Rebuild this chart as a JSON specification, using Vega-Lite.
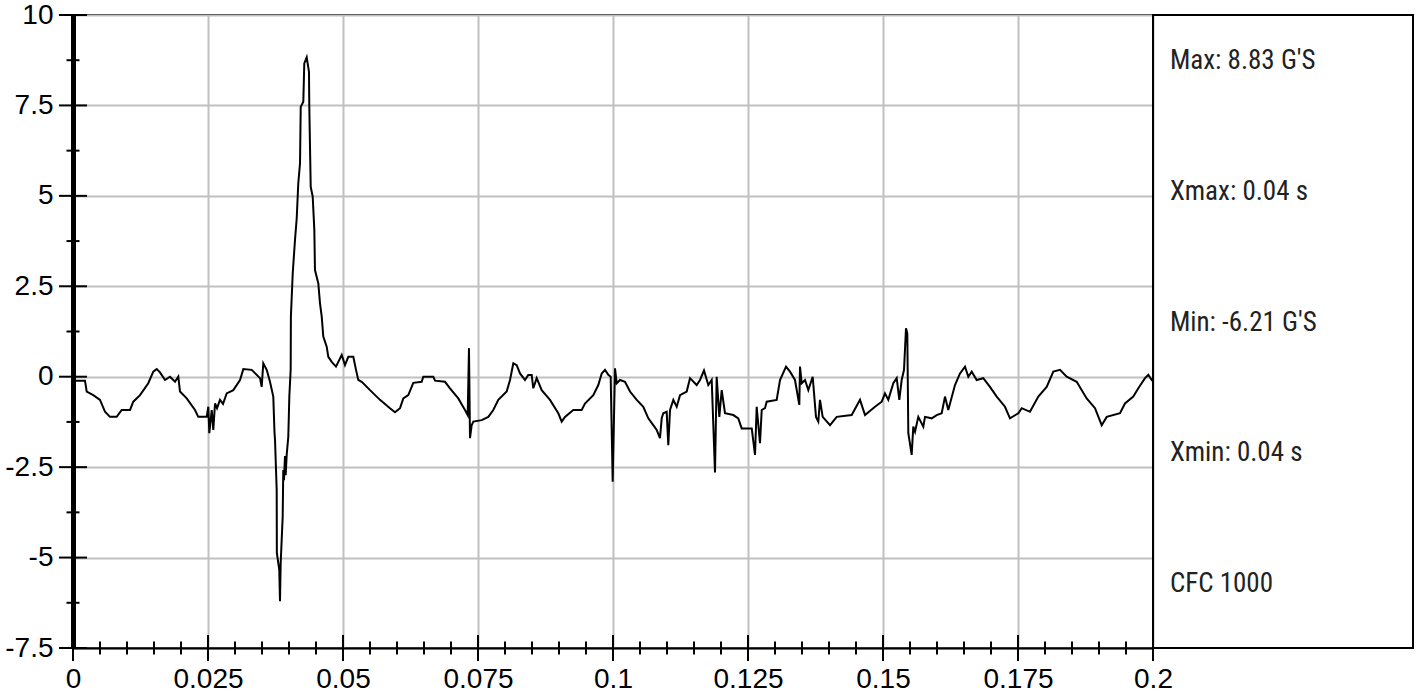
{
  "$schema": "https://vega.github.io/schema/vega-lite/v6.json",
  "padding": {"left": 3, "top": 0, "right": 0, "bottom": 0},
  "background": "white",
  "bounds": "flush",
  "spacing": 0,
  "config": {
    "view": {"stroke": "black", "strokeWidth": 2},
    "axis": {"title": null, "grid": true, "gridColor": "#c0c0c0", "gridWidth": 2, "ticks": false,
      "domainColor": "black", "labelFont": "Liberation Sans", "labelFontSize": 28,
      "labelColor": "black", "labelFlush": false, "labelOverlap": false, "labelBound": false}
  },
  "datasets": {
    "signal": [
      {"t":0,"g":-0.11},{"t":0.00222,"g":-0.11},{"t":0.00254,"g":-0.41},{"t":0.00376,"g":-0.51},{"t":0.005,"g":-0.64},{"t":0.00593,"g":-0.97},{"t":0.00685,"g":-1.11},{"t":0.00809,"g":-1.11},{"t":0.00902,"g":-0.92},{"t":0.01056,"g":-0.92},{"t":0.01117,"g":-0.69},{"t":0.01241,"g":-0.51},{"t":0.01394,"g":-0.18},{"t":0.01487,"g":0.14},{"t":0.0155,"g":0.21},{"t":0.01611,"g":0.12},{"t":0.01704,"g":-0.09},{"t":0.01796,"g":0},{"t":0.01889,"g":-0.14},{"t":0.0195,"g":0},{"t":0.01981,"g":-0.41},{"t":0.02106,"g":-0.6},{"t":0.02259,"g":-0.92},{"t":0.0232,"g":-1.11},{"t":0.02476,"g":-1.11},{"t":0.02506,"g":-0.83},{"t":0.02524,"g":-1.56},{"t":0.02569,"g":-0.92},{"t":0.02598,"g":-1.47},{"t":0.0263,"g":-0.74},{"t":0.02667,"g":-0.87},{"t":0.02722,"g":-0.64},{"t":0.02778,"g":-0.75},{"t":0.02846,"g":-0.46},{"t":0.02969,"g":-0.37},{"t":0.03093,"g":-0.09},{"t":0.03154,"g":0.21},{"t":0.03309,"g":0.19},{"t":0.03402,"g":0.05},{"t":0.03463,"g":-0.04},{"t":0.03494,"g":-0.28},{"t":0.03524,"g":0.37},{"t":0.03587,"g":0.19},{"t":0.03648,"g":-0.14},{"t":0.03709,"g":-0.55},{"t":0.03731,"g":-1.53},{"t":0.03741,"g":-1.75},{"t":0.03772,"g":-3.13},{"t":0.03775,"g":-4.87},{"t":0.0382,"g":-5.34},{"t":0.03833,"g":-6.21},{"t":0.03846,"g":-5.15},{"t":0.03883,"g":-3.87},{"t":0.03894,"g":-2.58},{"t":0.03907,"g":-2.86},{"t":0.03926,"g":-2.19},{"t":0.03939,"g":-2.72},{"t":0.03957,"g":-2.16},{"t":0.03987,"g":-1.66},{"t":0.04006,"g":-0.55},{"t":0.04031,"g":0.19},{"t":0.04035,"g":1.66},{"t":0.04069,"g":2.86},{"t":0.04111,"g":3.78},{"t":0.04143,"g":4.38},{"t":0.04172,"g":5.35},{"t":0.04204,"g":5.9},{"t":0.04217,"g":7.46},{"t":0.04265,"g":7.6},{"t":0.04283,"g":8.66},{"t":0.04328,"g":8.83},{"t":0.0437,"g":8.43},{"t":0.04376,"g":7.46},{"t":0.04402,"g":5.25},{"t":0.04439,"g":4.98},{"t":0.04469,"g":4.06},{"t":0.04481,"g":2.95},{"t":0.04543,"g":2.58},{"t":0.04574,"g":2.03},{"t":0.04606,"g":1.66},{"t":0.04635,"g":1.11},{"t":0.04698,"g":0.83},{"t":0.04728,"g":0.55},{"t":0.04791,"g":0.41},{"t":0.0487,"g":0.28},{"t":0.04976,"g":0.6},{"t":0.05037,"g":0.32},{"t":0.05098,"g":0.55},{"t":0.05191,"g":0.55},{"t":0.05241,"g":0.19},{"t":0.05283,"g":-0.09},{"t":0.05352,"g":-0.15},{"t":0.055,"g":-0.37},{"t":0.05685,"g":-0.64},{"t":0.0587,"g":-0.87},{"t":0.05963,"g":-0.98},{"t":0.06056,"g":-0.87},{"t":0.06117,"g":-0.6},{"t":0.06209,"g":-0.51},{"t":0.06302,"g":-0.17},{"t":0.06457,"g":-0.14},{"t":0.06487,"g":0},{"t":0.06672,"g":0},{"t":0.06704,"g":-0.11},{"t":0.06889,"g":-0.14},{"t":0.06981,"g":-0.32},{"t":0.07135,"g":-0.6},{"t":0.07259,"g":-0.92},{"t":0.07309,"g":-1.06},{"t":0.07333,"g":0.79},{"t":0.07352,"g":-1.7},{"t":0.07383,"g":-1.34},{"t":0.07413,"g":-1.24},{"t":0.07569,"g":-1.2},{"t":0.07691,"g":-1.11},{"t":0.07783,"g":-0.92},{"t":0.07876,"g":-0.64},{"t":0.08031,"g":-0.41},{"t":0.08093,"g":-0.09},{"t":0.08154,"g":0.37},{"t":0.08217,"g":0.32},{"t":0.08278,"g":0.09},{"t":0.0837,"g":-0.09},{"t":0.08431,"g":0.05},{"t":0.08494,"g":0.05},{"t":0.08524,"g":-0.32},{"t":0.08587,"g":-0.04},{"t":0.0868,"g":-0.37},{"t":0.08833,"g":-0.64},{"t":0.08987,"g":-1.01},{"t":0.0905,"g":-1.24},{"t":0.09111,"g":-1.11},{"t":0.09265,"g":-0.92},{"t":0.0942,"g":-0.92},{"t":0.09481,"g":-0.74},{"t":0.09635,"g":-0.51},{"t":0.09728,"g":-0.23},{"t":0.09791,"g":0.09},{"t":0.09852,"g":0.19},{"t":0.09913,"g":0.05},{"t":0.09957,"g":0},{"t":0.09994,"g":-2.9},{"t":0.10037,"g":0.23},{"t":0.10069,"g":-0.18},{"t":0.1013,"g":-0.09},{"t":0.10222,"g":-0.14},{"t":0.10315,"g":-0.41},{"t":0.10439,"g":-0.64},{"t":0.10561,"g":-0.83},{"t":0.10654,"g":-1.15},{"t":0.10746,"g":-1.34},{"t":0.10809,"g":-1.47},{"t":0.1087,"g":-1.7},{"t":0.10902,"g":-1.15},{"t":0.10931,"g":-1.01},{"t":0.10994,"g":-0.97},{"t":0.11024,"g":-1.89},{"t":0.11056,"g":-0.92},{"t":0.11117,"g":-0.64},{"t":0.1118,"g":-0.83},{"t":0.11241,"g":-0.51},{"t":0.11365,"g":-0.41},{"t":0.11426,"g":-0.04},{"t":0.1155,"g":-0.23},{"t":0.11611,"g":-0.09},{"t":0.11685,"g":0.17},{"t":0.11765,"g":-0.23},{"t":0.11828,"g":-0.09},{"t":0.11889,"g":-2.65},{"t":0.1192,"g":0},{"t":0.11969,"g":-1.11},{"t":0.12013,"g":-0.37},{"t":0.12074,"g":-1.01},{"t":0.12228,"g":-1.06},{"t":0.1232,"g":-1.15},{"t":0.12383,"g":-1.43},{"t":0.12569,"g":-1.43},{"t":0.1263,"g":-2.16},{"t":0.12661,"g":-0.83},{"t":0.12722,"g":-1.84},{"t":0.12754,"g":-0.92},{"t":0.12815,"g":-0.87},{"t":0.12846,"g":-0.69},{"t":0.13031,"g":-0.64},{"t":0.13093,"g":-0.09},{"t":0.13204,"g":0.28},{"t":0.13278,"g":0.14},{"t":0.1337,"g":-0.09},{"t":0.1345,"g":-0.78},{"t":0.13463,"g":0.28},{"t":0.13494,"g":-0.18},{"t":0.13556,"g":-0.09},{"t":0.13617,"g":-0.37},{"t":0.13698,"g":0},{"t":0.13759,"g":-1.11},{"t":0.13802,"g":-1.24},{"t":0.13833,"g":-0.64},{"t":0.13883,"g":-1.11},{"t":0.14019,"g":-1.34},{"t":0.14143,"g":-1.11},{"t":0.1442,"g":-1.06},{"t":0.14574,"g":-0.64},{"t":0.14667,"g":-1.06},{"t":0.14852,"g":-0.83},{"t":0.14976,"g":-0.69},{"t":0.15037,"g":-0.46},{"t":0.15098,"g":-0.64},{"t":0.15191,"g":-0.18},{"t":0.15254,"g":-0.04},{"t":0.15302,"g":-0.64},{"t":0.15346,"g":-0.09},{"t":0.15389,"g":0.19},{"t":0.15426,"g":1.34},{"t":0.1545,"g":1.2},{"t":0.15469,"g":-1.56},{"t":0.15531,"g":-2.16},{"t":0.15561,"g":-1.38},{"t":0.15593,"g":-1.52},{"t":0.15654,"g":-1.11},{"t":0.15746,"g":-1.38},{"t":0.15778,"g":-1.11},{"t":0.15902,"g":-1.15},{"t":0.15994,"g":-1.06},{"t":0.16087,"g":-1.01},{"t":0.16148,"g":-0.55},{"t":0.16209,"g":-0.92},{"t":0.16333,"g":-0.23},{"t":0.16426,"g":0.09},{"t":0.16519,"g":0.28},{"t":0.1658,"g":0},{"t":0.16643,"g":0.14},{"t":0.16735,"g":-0.09},{"t":0.16857,"g":-0.04},{"t":0.16981,"g":-0.28},{"t":0.17106,"g":-0.55},{"t":0.17259,"g":-0.83},{"t":0.17352,"g":-1.15},{"t":0.17506,"g":-1.01},{"t":0.17569,"g":-0.87},{"t":0.17722,"g":-0.97},{"t":0.17876,"g":-0.55},{"t":0.18031,"g":-0.28},{"t":0.18154,"g":0.14},{"t":0.18278,"g":0.19},{"t":0.18402,"g":0},{"t":0.18587,"g":-0.14},{"t":0.18772,"g":-0.6},{"t":0.18926,"g":-0.87},{"t":0.1905,"g":-1.34},{"t":0.19143,"g":-1.11},{"t":0.19389,"g":-1.01},{"t":0.19481,"g":-0.74},{"t":0.19635,"g":-0.55},{"t":0.19728,"g":-0.32},{"t":0.19852,"g":-0.04},{"t":0.19913,"g":0.05},{"t":0.19976,"g":-0.09},{"t":0.2,"g":-0.05}
    ],
    "ymaj": [{"g":-7.5},{"g":-5},{"g":-2.5},{"g":0},{"g":2.5},{"g":5},{"g":7.5},{"g":10}],
    "ymin": [{"g":-6.25},{"g":-3.75},{"g":-1.25},{"g":1.25},{"g":3.75},{"g":6.25},{"g":8.75}],
    "xmaj": [{"t":0},{"t":0.025},{"t":0.05},{"t":0.075},{"t":0.1},{"t":0.125},{"t":0.15},{"t":0.175},{"t":0.2}],
    "xmin": [{"t":0.005},{"t":0.01},{"t":0.015},{"t":0.02},{"t":0.03},{"t":0.035},{"t":0.04},{"t":0.045},{"t":0.055},{"t":0.06},{"t":0.065},{"t":0.07},{"t":0.08},{"t":0.085},{"t":0.09},{"t":0.095},{"t":0.105},{"t":0.11},{"t":0.115},{"t":0.12},{"t":0.13},{"t":0.135},{"t":0.14},{"t":0.145},{"t":0.155},{"t":0.16},{"t":0.165},{"t":0.17},{"t":0.18},{"t":0.185},{"t":0.19},{"t":0.195}],
    "stats": [{"label":"Max: 8.83 G'S"},{"label":"Xmax: 0.04 s"},{"label":"Min: -6.21 G'S"},{"label":"Xmin: 0.04 s"},{"label":"CFC 1000"}]
  },
  "hconcat": [
    {
      "width": 1080,
      "height": 633,
      "layer": [
        {
          "data": {"name": "signal"},
          "mark": {"type": "line", "color": "black", "strokeWidth": 2, "clip": true},
          "encoding": {
            "x": {"field": "t", "type": "quantitative", "title": null,
              "scale": {"domain": [0, 0.2], "nice": false, "zero": false},
              "axis": {"values": [0,0.025,0.05,0.075,0.1,0.125,0.15,0.175,0.2], "labelExpr": "datum.value + ''",
                "title": null, "domainWidth": 2, "labelPadding": 17}},
            "y": {"field": "g", "type": "quantitative", "title": null,
              "scale": {"domain": [-7.5, 10], "nice": false, "zero": false},
              "axis": {"values": [-7.5,-5,-2.5,0,2.5,5,7.5,10], "labelExpr": "datum.value + ''",
                "title": null, "domainWidth": 5, "labelPadding": 20}}
          }
        },
        {
          "data": {"name": "ymaj"},
          "mark": {"type": "tick", "orient": "horizontal", "color": "black", "size": 28, "thickness": 2, "opacity": 1},
          "encoding": {
            "x": {"datum": 0, "type": "quantitative", "title": null},
            "y": {"field": "g", "type": "quantitative", "title": null}
          }
        },
        {
          "data": {"name": "ymin"},
          "mark": {"type": "tick", "orient": "horizontal", "color": "black", "size": 13, "thickness": 2, "opacity": 1},
          "encoding": {
            "x": {"datum": 0, "type": "quantitative", "title": null},
            "y": {"field": "g", "type": "quantitative", "title": null}
          }
        },
        {
          "data": {"name": "xmaj"},
          "mark": {"type": "tick", "orient": "vertical", "color": "black", "size": 26, "thickness": 2, "opacity": 1},
          "encoding": {
            "x": {"field": "t", "type": "quantitative", "title": null},
            "y": {"datum": -7.5, "type": "quantitative", "title": null}
          }
        },
        {
          "data": {"name": "xmin"},
          "mark": {"type": "tick", "orient": "vertical", "color": "black", "size": 13, "thickness": 2, "opacity": 1},
          "encoding": {
            "x": {"field": "t", "type": "quantitative", "title": null},
            "y": {"datum": -7.5, "type": "quantitative", "title": null}
          }
        }
      ]
    },
    {
      "width": 260,
      "height": 633,
      "data": {"name": "stats"},
      "mark": {"type": "text", "align": "left", "baseline": "middle", "font": "Liberation Sans Narrow, Roboto Condensed, Liberation Sans", "fontSize": 27, "color": "#222222"},
      "encoding": {
        "x": {"datum": 0.065, "type": "quantitative", "scale": {"domain": [0, 1], "nice": false, "zero": false}, "axis": null},
        "y": {"field": "label", "type": "nominal", "sort": null, "axis": null,
          "scale": {"type": "point", "padding": 0.42, "align": 0.42}},
        "text": {"field": "label"}
      }
    }
  ]
}
